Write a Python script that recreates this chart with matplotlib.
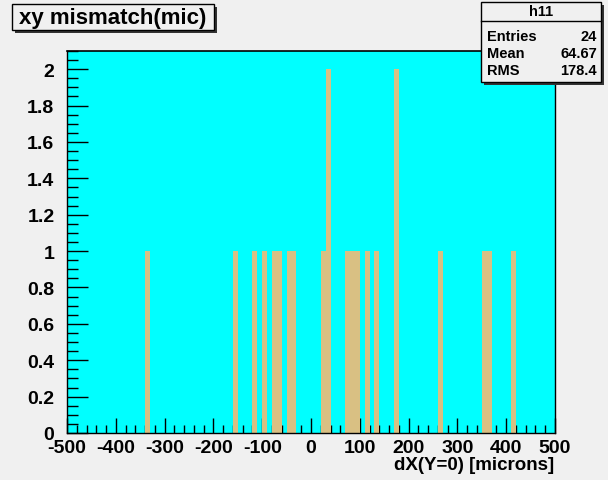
import matplotlib
matplotlib.use('Agg')
import matplotlib.pyplot as plt
from matplotlib.patches import Rectangle
from matplotlib.ticker import MultipleLocator

# ---- data ----
bin_centers = [-335, -155, -115, -95, -75, -65, -45, -35,
               25, 35, 75, 85, 95, 115, 135, 175, 265, 355, 365, 415]
counts = [1, 1, 1, 1, 1, 1, 1, 1,
          1, 2, 1, 1, 1, 1, 1, 2, 1, 1, 1, 1]
bin_width = 10
x_ticks = [-500, -400, -300, -200, -100, 0, 100, 200, 300, 400, 500]
y_ticks = [0, 0.2, 0.4, 0.6, 0.8, 1, 1.2, 1.4, 1.6, 1.8, 2]
y_tick_labels = ['0', '0.2', '0.4', '0.6', '0.8', '1', '1.2', '1.4', '1.6', '1.8', '2']
title_text = "xy mismatch(mic)"
x_label = "dX(Y=0) [microns]"
stats_name = "h11"
stats_labels = ["Entries", "Mean", "RMS"]
stats_values = ["24", "64.67", "178.4"]

W, H = 608, 481
FONT = 'Liberation Sans'
bg = '#f0f0f0'

fig = plt.figure(figsize=(W / 100, H / 100), dpi=100, facecolor=bg)

def fx(px):
    return px / W

def fy(py):
    return 1 - py / H

# axes frame: left 67, right 555, top 52, bottom 434 (pixels)
ax = fig.add_axes([fx(67), fy(434), (555 - 67) / W, (434 - 52) / H])
ax.set_facecolor('#00ffff')
ax.bar(bin_centers, counts, width=bin_width, color='#d9c083', edgecolor='none', zorder=2)
ax.set_xlim(-500, 500)
ax.set_ylim(0, 2.1)
ax.set_xticks(x_ticks)
ax.set_xticklabels([str(v) for v in x_ticks])
ax.set_yticks(y_ticks)
ax.set_yticklabels(y_tick_labels)
ax.xaxis.set_minor_locator(MultipleLocator(20))
ax.yaxis.set_minor_locator(MultipleLocator(0.05))
ax.tick_params(which='both', direction='in', top=False, right=False, width=1.0, color='black', zorder=5)
ax.tick_params(which='major', axis='x', length=11, pad=4)
ax.tick_params(which='minor', axis='x', length=6)
ax.tick_params(which='major', axis='y', length=15, pad=9)
ax.tick_params(which='minor', axis='y', length=8)
for lab in ax.get_xticklabels() + ax.get_yticklabels():
    lab.set_fontfamily(FONT)
    lab.set_fontweight('bold')
    lab.set_fontsize(14)
for sp in ax.spines.values():
    sp.set_linewidth(1.0)
    sp.set_color('black')
ax.spines['top'].set_linewidth(1.2)

# x axis title, right-aligned at axis end
fig.text(fx(554), fy(466), x_label, ha='right', va='center',
         fontfamily=FONT, fontweight='bold', fontsize=13.5)

# boxes with shadow
def box(x0, y0, x1, y1):
    fig.patches.append(Rectangle((fx(x0 + 3), fy(y1 + 3)), (x1 - x0) / W, (y1 - y0) / H,
                                 transform=fig.transFigure, facecolor='#333333',
                                 edgecolor='none', zorder=1))
    fig.patches.append(Rectangle((fx(x0), fy(y1)), (x1 - x0) / W, (y1 - y0) / H,
                                 transform=fig.transFigure, facecolor=bg,
                                 edgecolor='black', linewidth=1.0, zorder=2))

box(12, 5, 214, 31)
fig.text(fx(113), fy(18.5), title_text, ha='center', va='center',
         fontfamily=FONT, fontweight='bold', fontsize=16, zorder=3)

# stats box
box(481, 3, 601, 83)
fig.lines.append(plt.Line2D([fx(481), fx(601)], [fy(22), fy(22)],
                            transform=fig.transFigure, color='black', linewidth=1.0, zorder=3))
fig.text(fx(541), fy(12.5), stats_name, ha='center', va='center',
         fontfamily=FONT, fontweight='bold', fontsize=10.5, zorder=3)
row_y = [37, 54, 71]
for lab, val, yy in zip(stats_labels, stats_values, row_y):
    fig.text(fx(487), fy(yy), lab, ha='left', va='center',
             fontfamily=FONT, fontweight='bold', fontsize=10.5, zorder=3)
    fig.text(fx(597), fy(yy), val, ha='right', va='center',
             fontfamily=FONT, fontweight='bold', fontsize=10.5, zorder=3)

fig.savefig('out.png', dpi=100, facecolor=bg)
